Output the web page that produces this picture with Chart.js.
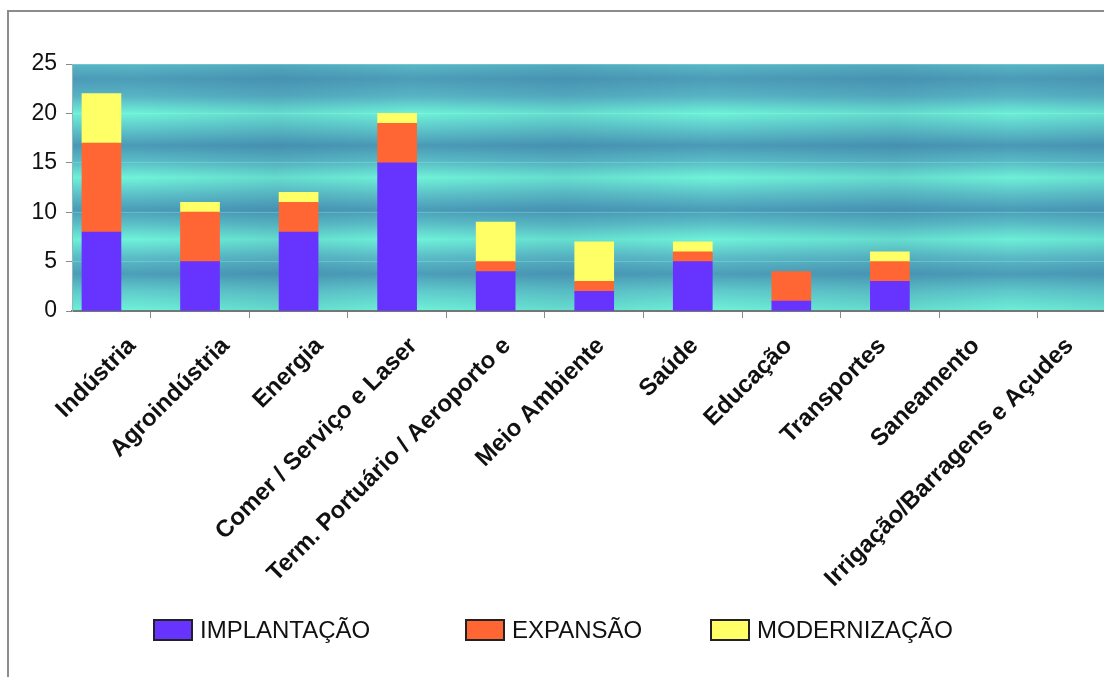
<!DOCTYPE html>
<html>
<head>
<meta charset="utf-8">
<script src="https://cdn.jsdelivr.net/npm/chart.js@4.4.1/dist/chart.umd.min.js"></script>
<style>
    html, body { margin: 0; padding: 0; background: #fff; overflow: hidden; width: 1104px; height: 677px; }
    #frame { position: absolute; left: 7px; top: 10px; width: 1200px; height: 700px;
             border-left: 2px solid #8c8c8c; border-top: 2px solid #8c8c8c; }
    #wrap { position: absolute; left: 0; top: 0; width: 1150px; height: 677px; }
    .legend-item { position: absolute; top: 619px; height: 22px; display: flex; align-items: center;
                   font-family: "Liberation Sans", Arial, sans-serif; font-size: 24px; color: #111; }
    .legend-box { width: 36px; height: 18px; border: 2px solid #222; margin-right: 7px; }
</style>
</head>
<body>
<div id="frame"></div>
<div id="wrap"><canvas id="chart" width="1150" height="677"></canvas></div>
<div id="legend"></div>
<script>
// Chart data
const categories = ['Indústria', 'Agroindústria', 'Energia', 'Comer / Serviço e Laser',
    'Term. Portuário / Aeroporto e', 'Meio Ambiente', 'Saúde', 'Educação',
    'Transportes', 'Saneamento', 'Irrigação/Barragens e Açudes'];
const implantacao = [8, 5, 8, 15, 4, 2, 5, 1, 3, 0, 0];
const expansao = [9, 5, 3, 4, 1, 1, 1, 3, 2, 0, 0];
const modernizacao = [5, 1, 1, 1, 4, 4, 1, 0, 1, 0, 0];
const seriesNames = ['IMPLANTAÇÃO', 'EXPANSÃO', 'MODERNIZAÇÃO'];
const seriesColors = ['#6633ff', '#ff6633', '#ffff66'];
const yTicks = [0, 5, 10, 15, 20, 25];

const FONT = '"Liberation Sans", Arial, sans-serif';

/**
 * Teal banded background behind the bars
 */
const plotBackground = {
    id: 'plotBackground',
    beforeDraw(chart) {
        const { ctx, chartArea: a } = chart;
        ctx.save();
        const g = ctx.createLinearGradient(0, a.top, 0, a.bottom);
        const stops = [
            [0.00, '#5ab9c6'], [0.06, '#4c9cb8'], [0.13, '#58b4c4'], [0.20, '#6ef2d8'],
            [0.27, '#5cc2c8'], [0.33, '#4a9ab6'], [0.40, '#5cc0c8'], [0.46, '#6ff3d8'],
            [0.53, '#5cc0c8'], [0.59, '#4b9cb8'], [0.65, '#5cc2c8'], [0.71, '#6ef2d8'],
            [0.78, '#5cbec8'], [0.85, '#4c9eb8'], [0.92, '#60cccc'], [1.00, '#6ff3d8']
        ];
        stops.forEach(s => g.addColorStop(s[0], s[1]));
        ctx.fillStyle = g;
        ctx.fillRect(a.left, a.top, a.right - a.left, a.bottom - a.top);

        // soft darker patches along the bands
        const w = a.right - a.left;
        const h = ctx.createLinearGradient(a.left, 0, a.right, 0);
        const patches = [
            [0.00, 0.02], [0.06, 0.00], [0.19, 0.14], [0.32, 0.00], [0.46, 0.13],
            [0.60, 0.00], [0.77, 0.14], [0.88, 0.02], [1.00, 0.14]
        ];
        patches.forEach(p => h.addColorStop(p[0], `rgba(40, 80, 140, ${p[1]})`));
        ctx.fillStyle = h;
        ctx.fillRect(a.left, a.top, w, a.bottom - a.top);
        ctx.restore();
    }
};

// zero segments are left out so they leave no hairline on the axis
const datasets = [implantacao, expansao, modernizacao].map((values, k) => ({
    label: seriesNames[k],
    data: values.map((v, i) => ({ x: i, y: v === 0 ? null : v })),
    backgroundColor: seriesColors[k],
    borderWidth: 0,
    barThickness: 39
}));

const chart = new Chart(document.getElementById('chart').getContext('2d'), {
    type: 'bar',
    data: { datasets: datasets },
    options: {
        responsive: false,
        animation: false,
        layout: { padding: { left: 0, right: 10, top: 64, bottom: 0 } },
        plugins: {
            legend: { display: false },
            tooltip: { enabled: false }
        },
        scales: {
            x: {
                type: 'linear',
                stacked: true,
                offset: false,
                min: -0.299,
                max: 10.538,
                afterBuildTicks: s => { s.ticks = categories.map((c, i) => ({ value: i + 0.5 })); },
                ticks: { display: false },
                grid: { offset: false, drawOnChartArea: false, tickColor: '#8a8a8a', tickLength: 7 },
                border: { color: '#707878', width: 2 },
                afterFit: s => { s.height = 7; }
            },
            xl: {
                type: 'linear',
                position: 'bottom',
                weight: 1,
                offset: false,
                min: -0.64,
                max: 10.75,
                afterBuildTicks: s => { s.ticks = categories.map((c, i) => ({ value: i })); },
                ticks: {
                    autoSkip: false,
                    minRotation: 45,
                    maxRotation: 45,
                    padding: 6,
                    color: '#111',
                    font: { family: FONT, size: 24, weight: 'bold' },
                    callback: v => categories[v]
                },
                grid: { display: false, offset: false },
                border: { display: false },
                afterFit: s => { s.height = 359; }
            },
            y: {
                stacked: true,
                min: 0,
                max: 25,
                afterBuildTicks: s => { s.ticks = yTicks.map(v => ({ value: v })); },
                ticks: { color: '#111', padding: 9, font: { family: FONT, size: 23 } },
                grid: {
                    color: 'rgba(150, 250, 228, 0.3)',
                    tickColor: '#8a8a8a',
                    tickLength: 6
                },
                border: { color: '#8fb8b8', width: 1 },
                afterFit: s => { s.width = 72; }
            }
        }
    },
    plugins: [plotBackground]
});

// Legend below the chart
const legendLeft = [153, 465, 710];
const legend = document.getElementById('legend');
seriesNames.forEach((name, k) => {
    const item = document.createElement('div');
    item.className = 'legend-item';
    item.style.left = legendLeft[k] + 'px';
    item.innerHTML = `<span class="legend-box" style="background:${seriesColors[k]}"></span>${name}`;
    legend.appendChild(item);
});
</script>
</body>
</html>
